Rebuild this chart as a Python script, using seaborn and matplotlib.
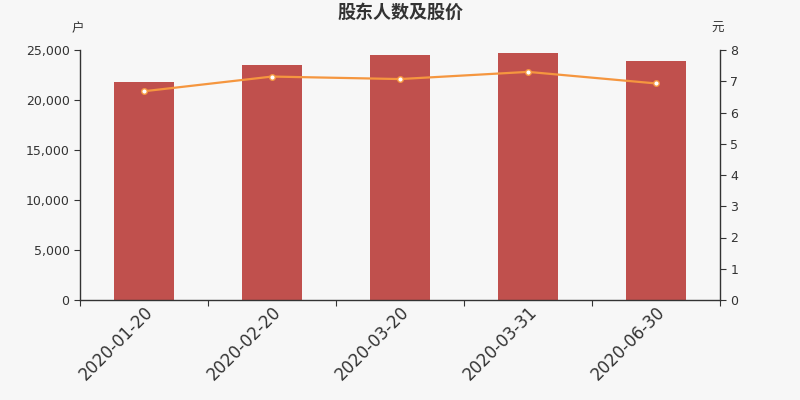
import numpy as np
import pandas as pd
import matplotlib
matplotlib.use('Agg')
import matplotlib.pyplot as plt
import seaborn as sns

# Data
dates = ['2020-01-20', '2020-02-20', '2020-03-20', '2020-03-31', '2020-06-30']
holders = [21800, 23500, 24500, 24750, 23900]
prices = [6.68, 7.15, 7.07, 7.30, 6.93]

BG = '#f7f7f7'
TXT = '#333333'

sns.set_style('ticks')
plt.rcParams['font.family'] = ['Noto Sans CJK SC', 'DejaVu Sans']

df = pd.DataFrame({'date': dates, 'holders': holders, 'price': prices,
                   'pos': np.arange(len(dates))})

fig = plt.figure(figsize=(8, 4), dpi=100, facecolor=BG)
ax = fig.add_axes([0.1, 0.25, 0.8, 0.625])
ax.set_facecolor(BG)

sns.barplot(data=df, x='date', y='holders', color='#c0504d', saturation=1,
            width=0.47, linewidth=0, ax=ax)
ax.set_xlim(-0.5, len(dates) - 0.5)
ax.set_ylim(0, 25000)
ax.set_yticks(range(0, 25001, 5000))
ax.set_yticklabels([f'{v:,}' for v in range(0, 25001, 5000)], fontsize=9, color=TXT,
                   family='DejaVu Sans')
ax.set_xlabel('')
ax.set_ylabel('')

# major ticks at category boundaries, labels as minor ticks under bars
ax.set_xticks(np.arange(-0.5, len(dates)), labels=[''] * (len(dates) + 1))
ax.set_xticks(np.arange(len(dates)), minor=True)
ax.set_xticklabels(dates, minor=True, rotation=45, ha='right', rotation_mode='anchor',
                   fontsize=12, color=TXT, family='DejaVu Sans')
ax.tick_params(axis='x', which='minor', length=0, pad=2)
ax.tick_params(axis='both', which='major', color=TXT, length=4)

ax2 = ax.twinx()
sns.lineplot(data=df, x='pos', y='price', color='#f5963f', linewidth=1.6,
             marker='o', markersize=4, markerfacecolor='white',
             markeredgecolor='#f5963f', markeredgewidth=1, ax=ax2)
ax2.set_ylim(0, 8)
ax2.set_yticks(range(0, 9))
ax2.set_yticklabels([str(v) for v in range(0, 9)], fontsize=9, color=TXT,
                    family='DejaVu Sans')
ax2.set_xlabel('')
ax2.set_ylabel('')
ax2.tick_params(axis='y', color=TXT, length=4)

for a in (ax, ax2):
    a.spines['top'].set_visible(False)
    for s in ('left', 'right', 'bottom'):
        a.spines[s].set_color(TXT)
        a.spines[s].set_linewidth(1)
ax.spines['right'].set_visible(False)
ax2.spines['left'].set_visible(False)
ax2.spines['bottom'].set_visible(False)

fig.text(0.5, 0.968, '股东人数及股价', ha='center', va='center', fontsize=13,
         fontweight='bold', color=TXT)
fig.text(0.0975, 0.928, '户', ha='center', va='center', fontsize=9, color=TXT)
fig.text(0.8975, 0.928, '元', ha='center', va='center', fontsize=9, color=TXT)

fig.savefig('out.png', dpi=100, facecolor=BG)
